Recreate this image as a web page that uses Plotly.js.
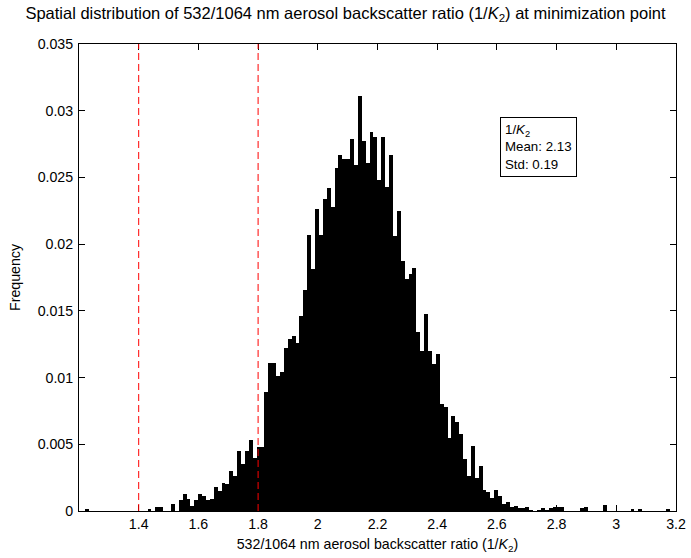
<!DOCTYPE html>
<html>
<head>
<meta charset="utf-8">
<script src="https://cdn.plot.ly/plotly-3.0.1.min.js"></script>
<style>html,body{margin:0;padding:0;background:#fff;}#chart{width:691px;height:558px;}</style>
</head>
<body>
<div id="chart"></div>
<script>
// Histogram bin definition (150 bins)
const binStartCenter = 1.2274;
const binWidth = 0.01305;
// Frequency per bin
const frequency = [
  0.00015, 0, 0, 0, 0, 0, 0, 0, 0, 0,
  0, 0, 0, 0, 0, 0, 0.00015, 0, 0.00033, 0.00033,
  0, 0, 0.0005, 0, 0.00085, 0.0013, 0.0009, 0.00035, 0.0008, 0.0013,
  0.0011, 0.0008, 0.0009, 0.0018, 0.0015, 0.0021, 0.002, 0.003, 0.0026, 0.0045,
  0.0035, 0.0045, 0.0053, 0.004, 0.0048, 0.0048, 0.0089, 0.0111, 0.0111, 0.0101,
  0.0104, 0.0122, 0.0129, 0.0131, 0.0126, 0.0146, 0.0166, 0.0207, 0.0181, 0.0226,
  0.0207, 0.0234, 0.0242, 0.0228, 0.0257, 0.0267, 0.0264, 0.0264, 0.0279, 0.0259,
  0.0311, 0.0277, 0.0261, 0.0284, 0.028, 0.0248, 0.028, 0.0243, 0.0267, 0.0206,
  0.0225, 0.0187, 0.0174, 0.0178, 0.0182, 0.0134, 0.012, 0.0148, 0.012, 0.011,
  0.0118, 0.008, 0.0078, 0.0055, 0.0071, 0.0067, 0.0058, 0.0039, 0.0026, 0.0049,
  0.0025, 0.0034, 0.0016, 0.0014, 0.001, 0.0016, 0.0011, 0.0005, 0.0007, 0.0003,
  0.0004, 0.0002, 0.0002, 0.0003, 0.0001, 0, 0.0001, 0.0002, 0.0001, 0.00025,
  0.0003, 0.0003, 0.0003, 0, 0, 0, 0, 0.0002, 0.00028, 0,
  0, 0, 0, 0.00047, 0, 0, 0, 0, 0, 0,
  0.00013, 0, 0.00013, 0, 0, 0, 0, 0, 0, 0.00013
];
// Threshold markers
const thresholds = [1.4, 1.8];
// Tick labels
const xTicks = [1.4, 1.6, 1.8, 2, 2.2, 2.4, 2.6, 2.8, 3, 3.2];
const xTickText = ['1.4', '1.6', '1.8', '2', '2.2', '2.4', '2.6', '2.8', '3', '3.2'];
const yTicks = [0, 0.005, 0.01, 0.015, 0.02, 0.025, 0.03, 0.035];
const yTickText = ['0', '0.005', '0.01', '0.015', '0.02', '0.025', '0.03', '0.035'];
const statsLabel = ['1/<i>K</i><sub>2</sub>', 'Mean: 2.13', 'Std: 0.19'];

const FONT = 'Liberation Sans, Arial, Helvetica, sans-serif';
const LABEL_SIZE = 14.2;

const trace = {
  type: 'bar',
  x0: binStartCenter,
  dx: binWidth,
  y: frequency,
  marker: {color: '#000000', line: {width: 0}},
  hoverinfo: 'x+y',
  showlegend: false
};

const shapes = thresholds.map(t => ({
  type: 'line', xref: 'x', yref: 'paper', x0: t, x1: t, y0: 0, y1: 1,
  line: {color: '#ff0000', width: 1, dash: '7px,4px'}
}));

const axisCommon = {
  showline: true, linecolor: '#000', linewidth: 1, mirror: 'ticks',
  ticks: 'inside', ticklen: 6, tickcolor: '#000', tickwidth: 1,
  showgrid: false, zeroline: false,
  tickfont: {family: FONT, size: LABEL_SIZE, color: '#000'}
};

const layout = {
  width: 691, height: 558,
  margin: {l: 79, r: 15, t: 44, b: 47},
  paper_bgcolor: '#fff', plot_bgcolor: '#fff',
  font: {family: FONT, size: LABEL_SIZE, color: '#000'},
  bargap: 0,
  title: {
    text: 'Spatial distribution of 532/1064 nm aerosol backscatter ratio (1/<i>K</i><sub>2</sub>) at minimization point',
    font: {family: FONT, size: 16.5, color: '#000'},
    x: 0.5, xref: 'container', xanchor: 'center',
    y: 1 - 13 / 558, yref: 'container', yanchor: 'middle'
  },
  xaxis: Object.assign({}, axisCommon, {
    range: [1.2, 3.2], tickmode: 'array', tickvals: xTicks, ticktext: xTickText,
    title: {text: '532/1064 nm aerosol backscatter ratio (1/<i>K</i><sub>2</sub>)', font: {family: FONT, size: LABEL_SIZE, color: '#000'}, standoff: 8}
  }),
  yaxis: Object.assign({}, axisCommon, {
    range: [0, 0.035], tickmode: 'array', tickvals: yTicks, ticktext: yTickText,
    ticklabelstandoff: 2,
    title: {text: 'Frequency', font: {family: FONT, size: LABEL_SIZE, color: '#000'}, standoff: 13}
  }),
  shapes: shapes,
  annotations: [{
    xref: 'paper', yref: 'paper', x: (500 - 79) / 597, y: (511 - 117) / 467,
    xanchor: 'left', yanchor: 'top', align: 'left', showarrow: false,
    text: statsLabel.join('<br>'),
    font: {family: FONT, size: 13.3, color: '#000'},
    bordercolor: '#000', borderwidth: 1, borderpad: 4, bgcolor: '#fff'
  }]
};

Plotly.newPlot('chart', [trace], layout, {staticPlot: true, displayModeBar: false});
</script>
</body>
</html>
